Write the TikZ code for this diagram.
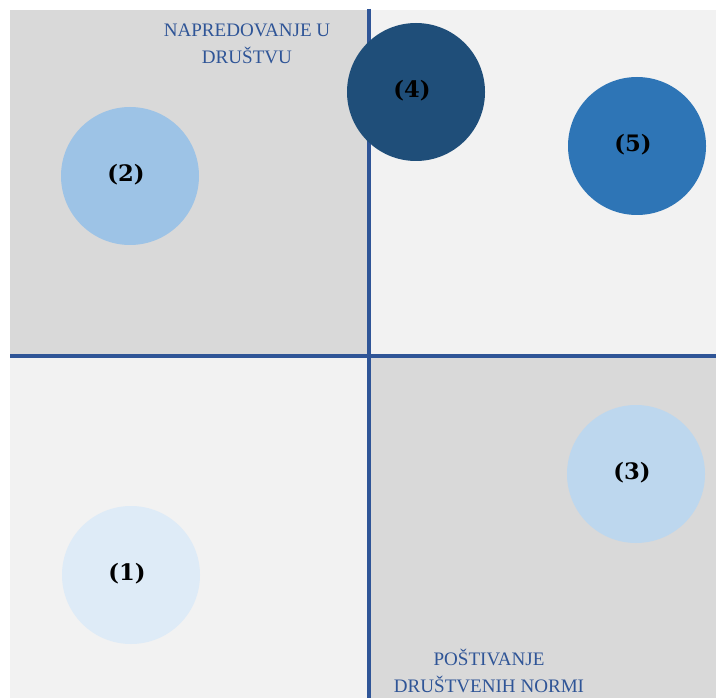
\documentclass[tikz,border=0pt]{standalone}
\usepackage{fontspec}
\setmainfont{Liberation Serif}
\newfontfamily\numfont{DejaVu Serif}
\definecolor{quadDark}{HTML}{D9D9D9}
\definecolor{quadLight}{HTML}{F2F2F2}
\definecolor{axisBlue}{HTML}{2F5597}
\definecolor{bubA}{HTML}{DEEBF7}
\definecolor{bubB}{HTML}{9DC3E6}
\definecolor{bubC}{HTML}{BDD7EE}
\definecolor{bubD}{HTML}{1F4E79}
\definecolor{bubE}{HTML}{2E75B6}
\tikzset{
  bubble/.style={circle,inner sep=0pt,minimum size=103.5pt},
  bubnum/.style={font=\numfont\bfseries\fontsize{17}{19}\selectfont,text=black,inner sep=0pt},
  axtext/.style={font=\fontsize{14.3}{20}\selectfont,text=axisBlue,align=center,inner sep=0pt},
}
\begin{document}
\begin{tikzpicture}[x=0.75pt,y=-0.75pt]
\useasboundingbox[fill=white](0,0)rectangle(716,698);
\pgfmathsetmacro{\kmx}{369}
\pgfmathsetmacro{\kmy}{356}
\fill[quadDark](10,10)rectangle(\kmx,\kmy);
\fill[quadLight](\kmx,10)rectangle(716,\kmy);
\fill[quadLight](10,\kmy)rectangle(\kmx,698);
\fill[quadDark](\kmx,\kmy)rectangle(716,698);
\coordinate(vt)at(\kmx,9);
\coordinate(vb)at(\kmx,698);
\coordinate(hl)at(10,\kmy);
\coordinate(hr)at(716,\kmy);
\draw[axisBlue,line width=3pt](vt)--(vb);
\draw[axisBlue,line width=3pt](hl)--(hr);
\foreach \n/\bx/\by/\bc in {1/131/575/bubA,2/130/176/bubB,3/636/474/bubC,4/416/92/bubD,5/637/146/bubE}{
  \node[bubble,fill=\bc](b\n)at(\bx,\by){};
  \node[bubnum](l\n)at([xshift=-3pt,yshift=1.2pt]b\n.center){(\n)};
}
\node[axtext](ty)at(247,44){NAPREDOVANJE U\\DRUŠTVU};
\node[axtext,anchor=base](tx)at(489,692){POŠTIVANJE\\DRUŠTVENIH NORMI};
\end{tikzpicture}
\end{document}
